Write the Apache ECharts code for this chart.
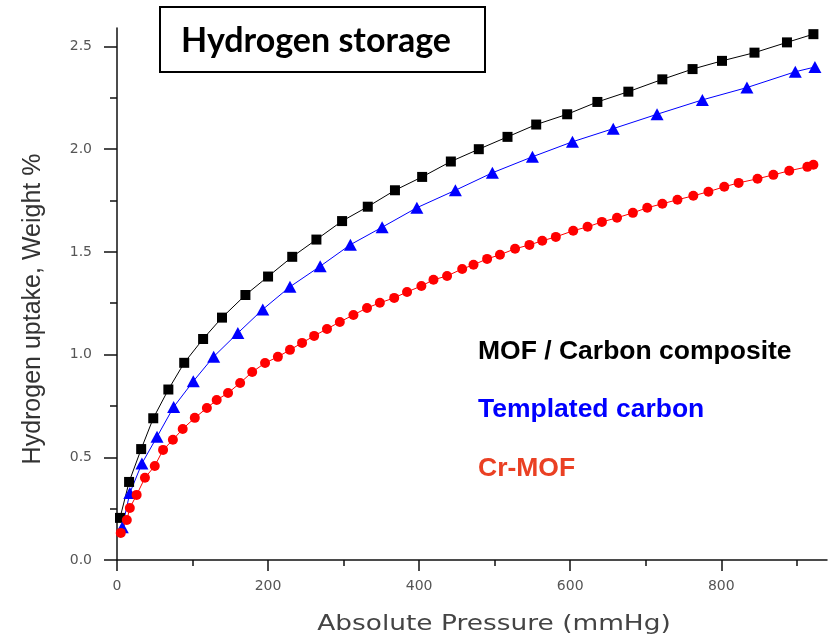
<!DOCTYPE html>
<html>
<head>
<meta charset="utf-8">
<script src="https://cdn.jsdelivr.net/npm/echarts@6/dist/echarts.min.js"></script>
<style>html,body{margin:0;padding:0;background:#fff;}#c{width:828px;height:640px;}</style>
</head>
<body>
<div id="c"></div>
<script>
// ---- data ----
var compositeP = [4,16,32,48,68,89,114,139,170,200,232,264,298,332,368,404,442,479,517,555,596,636,677,722,762,801,844,887,922];
var compositeW = [0.205,0.38,0.54,0.69,0.83,0.96,1.076,1.18,1.29,1.38,1.476,1.56,1.65,1.72,1.80,1.865,1.94,2.00,2.06,2.12,2.17,2.23,2.28,2.34,2.39,2.43,2.47,2.52,2.56];

var templatedP = [7,17,33,53,75,101,128,160,193,229,269,309,351,397,448,497,550,603,657,715,775,834,898,924];
var templatedW = [0.16,0.326,0.47,0.60,0.745,0.87,0.99,1.105,1.22,1.33,1.43,1.535,1.62,1.715,1.80,1.885,1.963,2.036,2.10,2.17,2.24,2.30,2.377,2.40];

var crmofP = [5,13,17,26,37,50,61,74,87,103,119,132,147,163,179,196,213,229,245,261,278,295,313,331,348,367,384,403,419,437,457,472,490,507,527,546,563,581,604,623,642,662,683,702,722,742,763,783,804,823,848,869,890,914,922];
var crmofW = [0.132,0.195,0.253,0.317,0.40,0.458,0.536,0.585,0.638,0.692,0.74,0.779,0.813,0.862,0.915,0.959,0.989,1.023,1.057,1.091,1.125,1.159,1.193,1.227,1.252,1.276,1.305,1.334,1.364,1.383,1.417,1.437,1.466,1.486,1.515,1.534,1.554,1.573,1.603,1.622,1.646,1.666,1.690,1.715,1.734,1.754,1.773,1.793,1.817,1.836,1.856,1.875,1.895,1.914,1.924];

var seriesNames = ['MOF / Carbon composite', 'Templated carbon', 'Cr-MOF'];
var xMajorTicks = [0,200,400,600,800];
var xMinorTicks = [100,300,500,700,900];
var yMajorTicks = [0,0.5,1.0,1.5,2.0,2.5];
var yMinorTicks = [0.25,0.75,1.25,1.75,2.25];
var titleText = 'Hydrogen storage';
var xTitle = 'Absolute Pressure (mmHg)';
var yTitle = 'Hydrogen uptake, Weight %';

function pairs(xs, ys){ return xs.map(function(x,i){ return [x, ys[i]]; }); }

var chart = echarts.init(document.getElementById('c'), null, {renderer:'canvas'});
var axisColor = '#111';
var labelStyle = {fontFamily:'DejaVu Sans', fontSize:14, color:'#555'};

var option = {
  backgroundColor:'#fff',
  animation:false,
  grid:{left:117, right:1, top:28, bottom:80, containLabel:false},
  xAxis:[{
    type:'value', min:0, max:940,
    axisLine:{show:true, lineStyle:{color:axisColor, width:1.5}},
    axisTick:{show:true, length:11, lineStyle:{color:axisColor, width:1.5}, customValues:xMajorTicks},
    axisLabel:Object.assign({margin:19, customValues:xMajorTicks, formatter:function(v){return String(v);}}, labelStyle),
    splitLine:{show:false}
  },{
    type:'value', min:0, max:940, position:'bottom', gridIndex:0,
    axisLine:{show:false},
    axisTick:{show:true, length:6, lineStyle:{color:axisColor, width:1.5}, customValues:xMinorTicks},
    axisLabel:{show:false},
    splitLine:{show:false}
  }],
  yAxis:[{
    type:'value', min:0, max:2.59,
    axisLine:{show:true, lineStyle:{color:axisColor, width:1.5}},
    axisTick:{show:true, length:13, lineStyle:{color:axisColor, width:1.5}, customValues:yMajorTicks},
    axisLabel:Object.assign({margin:25, customValues:yMajorTicks, formatter:function(v){return v.toFixed(1);}}, labelStyle),
    splitLine:{show:false}
  },{
    type:'value', min:0, max:2.59, position:'left', gridIndex:0,
    axisLine:{show:false},
    axisTick:{show:true, length:7, lineStyle:{color:axisColor, width:1.5}, customValues:yMinorTicks},
    axisLabel:{show:false},
    splitLine:{show:false}
  }],
  series:[{
    name:seriesNames[0], type:'line', xAxisIndex:0, yAxisIndex:0,
    data:pairs(compositeP, compositeW),
    symbol:'rect', symbolSize:10,
    itemStyle:{color:'#000'}, lineStyle:{color:'#000', width:1}
  },{
    name:seriesNames[1], type:'line', xAxisIndex:0, yAxisIndex:0,
    data:pairs(templatedP, templatedW),
    symbol:'triangle', symbolSize:[13,12],
    itemStyle:{color:'#0000ff'}, lineStyle:{color:'#0000ff', width:1}
  },{
    name:seriesNames[2], type:'line', xAxisIndex:0, yAxisIndex:0,
    data:pairs(crmofP, crmofW),
    symbol:'circle', symbolSize:10,
    itemStyle:{color:'#ff0000'}, lineStyle:{color:'#ff0000', width:1}
  }],
  graphic:[
    {type:'rect', shape:{x:160, y:7, width:325, height:65}, style:{fill:'#fff', stroke:'#000', lineWidth:2}, z:10},
    {type:'text', x:316, y:41, z:11, style:{text:titleText, font:'bold 34px Lato', fill:'#000', align:'center', verticalAlign:'middle'}},
    {type:'text', x:478, y:352, z:11, style:{text:seriesNames[0], font:'bold 26.5px "Liberation Sans"', fill:'#000', align:'left', verticalAlign:'middle'}},
    {type:'text', x:478, y:410, z:11, style:{text:seriesNames[1], font:'bold 26.5px "Liberation Sans"', fill:'#0000ff', align:'left', verticalAlign:'middle'}},
    {type:'text', x:478, y:469, z:11, style:{text:seriesNames[2], font:'bold 26.5px "Liberation Sans"', fill:'#ea4023', align:'left', verticalAlign:'middle'}},
    {type:'text', x:494, y:624, scaleX:1.2, z:11, style:{text:xTitle, font:'22px "DejaVu Sans"', fill:'#444', align:'center', verticalAlign:'middle'}},
    {type:'text', x:33, y:309, rotation:Math.PI/2, z:11, style:{text:yTitle, font:'25px "Liberation Sans"', fill:'#333', align:'center', verticalAlign:'middle'}}
  ]
};
chart.setOption(option);
</script>
</body>
</html>
